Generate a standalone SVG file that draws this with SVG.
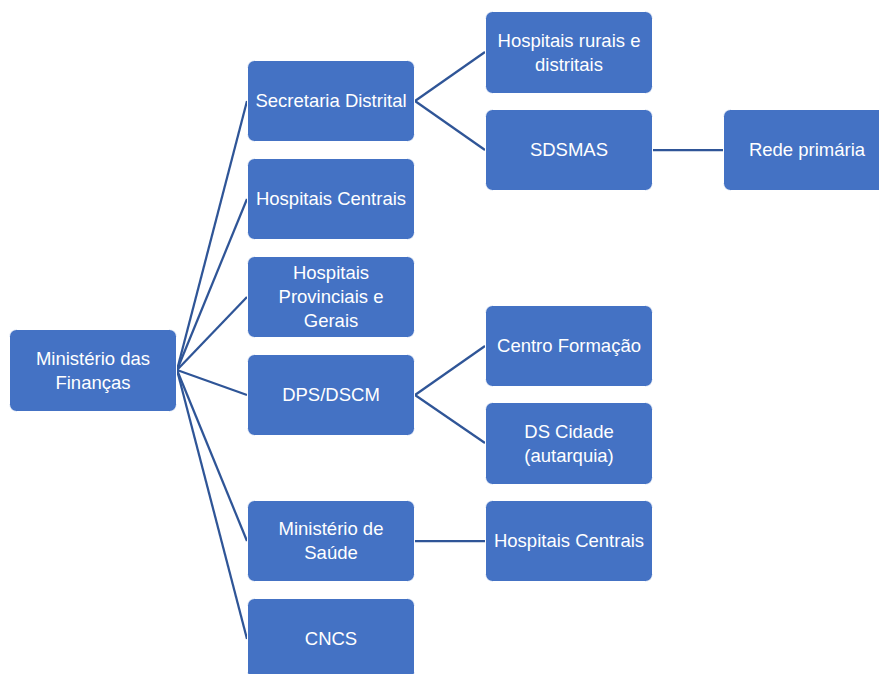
<svg xmlns="http://www.w3.org/2000/svg" width="879" height="674" viewBox="0 0 879 674">
<style>
.box{fill:#4472C4;stroke:#ffffff;stroke-width:1}
.t{font-family:"Liberation Sans",Arial,sans-serif;font-size:18.5px;fill:#ffffff;text-anchor:middle}
.c{stroke:#2F5597;stroke-width:2.25;fill:none}
</style>
<rect width="879" height="674" fill="#ffffff"/>
<g id="connectors">
<line class="c" x1="177" y1="370" x2="247" y2="101"/>
<line class="c" x1="177" y1="370" x2="247" y2="199"/>
<line class="c" x1="177" y1="370" x2="247" y2="297"/>
<line class="c" x1="177" y1="370" x2="247" y2="395"/>
<line class="c" x1="177" y1="370" x2="247" y2="541"/>
<line class="c" x1="177" y1="370" x2="247" y2="639"/>
<line class="c" x1="415" y1="101" x2="485" y2="52"/>
<line class="c" x1="415" y1="101" x2="485" y2="150"/>
<line class="c" x1="653" y1="150" x2="723" y2="150"/>
<line class="c" x1="415" y1="395" x2="485" y2="346"/>
<line class="c" x1="415" y1="395" x2="485" y2="443"/>
<line class="c" x1="415" y1="541" x2="485" y2="541"/>
</g>
<g id="n-financas"><rect class="box" x="9.5" y="329.5" width="167" height="82" rx="7"/><text class="t" x="93" y="365">Ministério das</text><text class="t" x="93" y="389">Finanças</text></g>
<g id="n-secretaria"><rect class="box" x="247.5" y="60.5" width="167" height="81" rx="7"/><text class="t" x="331" y="107">Secretaria Distrital</text></g>
<g id="n-hcentrais1"><rect class="box" x="247.5" y="158.5" width="167" height="81" rx="7"/><text class="t" x="331" y="205">Hospitais Centrais</text></g>
<g id="n-provinciais"><rect class="box" x="247.5" y="256.5" width="167" height="81" rx="7"/><text class="t" x="331" y="279">Hospitais</text><text class="t" x="331" y="303">Provinciais e</text><text class="t" x="331" y="327">Gerais</text></g>
<g id="n-dps"><rect class="box" x="247.5" y="354.5" width="167" height="81" rx="7"/><text class="t" x="331" y="401">DPS/DSCM</text></g>
<g id="n-misau"><rect class="box" x="247.5" y="500.5" width="167" height="81" rx="7"/><text class="t" x="331" y="535">Ministério de</text><text class="t" x="331" y="559">Saúde</text></g>
<g id="n-cncs"><rect class="box" x="247.5" y="598.5" width="167" height="81" rx="7"/><text class="t" x="331" y="645">CNCS</text></g>
<g id="n-rurais"><rect class="box" x="485.5" y="11.5" width="167" height="82" rx="7"/><text class="t" x="569" y="47">Hospitais rurais e</text><text class="t" x="569" y="71">distritais</text></g>
<g id="n-sdsmas"><rect class="box" x="485.5" y="109.5" width="167" height="81" rx="7"/><text class="t" x="569" y="156">SDSMAS</text></g>
<g id="n-rede"><rect class="box" x="723.5" y="109.5" width="167" height="81" rx="7"/><text class="t" x="807" y="156">Rede primária</text></g>
<g id="n-centro"><rect class="box" x="485.5" y="305.5" width="167" height="81" rx="7"/><text class="t" x="569" y="352">Centro Formação</text></g>
<g id="n-dscidade"><rect class="box" x="485.5" y="402.5" width="167" height="82" rx="7"/><text class="t" x="569" y="438">DS Cidade</text><text class="t" x="569" y="462">(autarquia)</text></g>
<g id="n-hcentrais2"><rect class="box" x="485.5" y="500.5" width="167" height="81" rx="7"/><text class="t" x="569" y="547">Hospitais Centrais</text></g>
</svg>
